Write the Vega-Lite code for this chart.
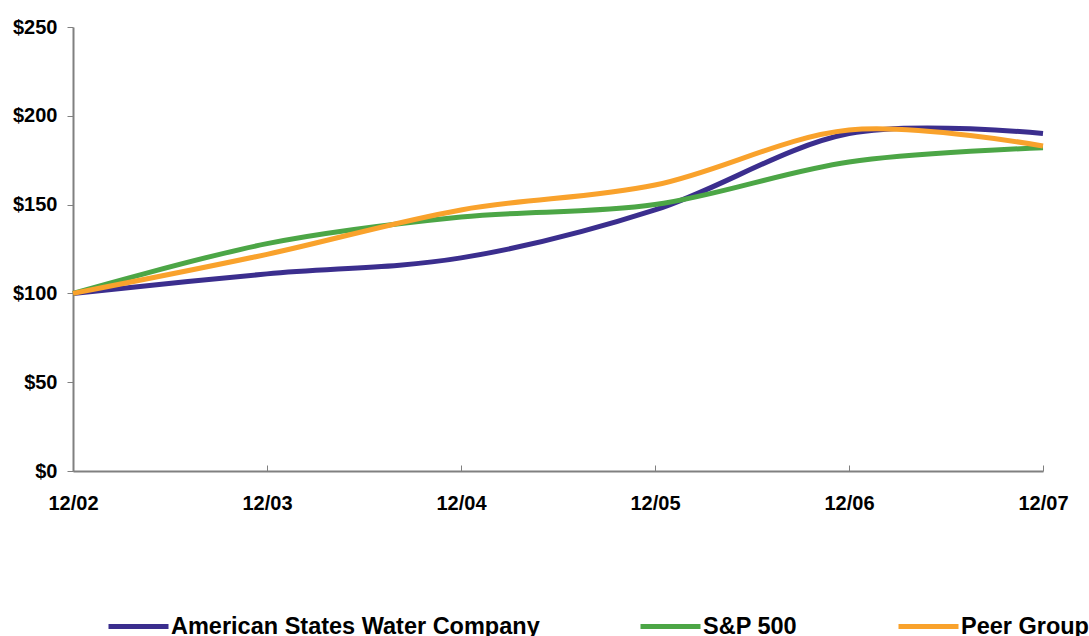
{
  "$schema": "https://vega.github.io/schema/vega-lite/v6.json",
  "width": 970,
  "height": 444,
  "autosize": {"type": "none"},
  "padding": {"left": 73, "top": 27, "right": 46, "bottom": 165},
  "background": "white",
  "config": {"view": {"stroke": null}, "font": "Liberation Sans"},
  "data": {
    "values": [
      {"period": "12/02", "series": "American States Water Company", "value": 100},
      {"period": "12/03", "series": "American States Water Company", "value": 111},
      {"period": "12/04", "series": "American States Water Company", "value": 120},
      {"period": "12/05", "series": "American States Water Company", "value": 147},
      {"period": "12/06", "series": "American States Water Company", "value": 190},
      {"period": "12/07", "series": "American States Water Company", "value": 190},
      {"period": "12/02", "series": "S&P 500", "value": 100},
      {"period": "12/03", "series": "S&P 500", "value": 128},
      {"period": "12/04", "series": "S&P 500", "value": 143},
      {"period": "12/05", "series": "S&P 500", "value": 150},
      {"period": "12/06", "series": "S&P 500", "value": 174},
      {"period": "12/07", "series": "S&P 500", "value": 182},
      {"period": "12/02", "series": "Peer Group", "value": 100},
      {"period": "12/03", "series": "Peer Group", "value": 122},
      {"period": "12/04", "series": "Peer Group", "value": 147},
      {"period": "12/05", "series": "Peer Group", "value": 161},
      {"period": "12/06", "series": "Peer Group", "value": 192},
      {"period": "12/07", "series": "Peer Group", "value": 183}
    ]
  },
  "mark": {"type": "line", "interpolate": "cardinal", "strokeWidth": 5},
  "encoding": {
    "x": {
      "field": "period",
      "type": "ordinal",
      "sort": ["12/02", "12/03", "12/04", "12/05", "12/06", "12/07"],
      "scale": {"type": "point", "padding": 0},
      "axis": {
        "title": null,
        "labelAngle": 0,
        "labelFont": "Liberation Sans",
        "labelFontSize": 20,
        "labelFontWeight": "bold",
        "labelColor": "black",
        "labelPadding": 28,
        "tickSize": -6,
        "tickColor": "#808080",
        "tickWidth": 1,
        "domainColor": "#808080",
        "domainWidth": 2,
        "grid": false
      }
    },
    "y": {
      "field": "value",
      "type": "quantitative",
      "scale": {"domain": [0, 250], "nice": false, "zero": true},
      "axis": {
        "title": null,
        "values": [0, 50, 100, 150, 200, 250],
        "format": "$.0f",
        "labelFont": "Liberation Sans",
        "labelFontSize": 20,
        "labelFontWeight": "bold",
        "labelColor": "black",
        "labelPadding": 10,
        "tickSize": 6,
        "tickColor": "#808080",
        "tickWidth": 1,
        "domainColor": "#808080",
        "domainWidth": 2,
        "grid": false
      }
    },
    "color": {
      "field": "series",
      "type": "nominal",
      "scale": {
        "domain": ["American States Water Company", "S&P 500", "Peer Group"],
        "range": ["#3B2E8E", "#4CA646", "#F9A22C"]
      },
      "legend": {
        "title": null,
        "orient": "none",
        "direction": "horizontal",
        "legendX": 33,
        "legendY": 567,
        "padding": 0,
        "symbolType": "stroke",
        "symbolSize": 3600,
        "symbolStrokeWidth": 5,
        "labelFont": "Liberation Sans",
        "labelFontSize": 23.5,
        "labelFontWeight": "bold",
        "labelColor": "black",
        "labelLimit": 1000,
        "labelOffset": 0,
        "columnPadding": 90
      }
    }
  }
}
